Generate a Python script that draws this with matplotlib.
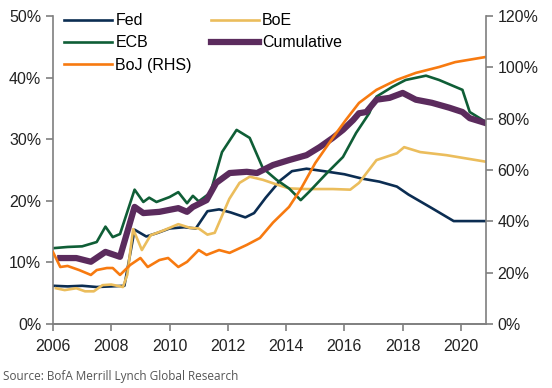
#!/usr/bin/env python3
# -*- coding: utf-8 -*-

"""
	central bank balance sheets chart
"""

import matplotlib
matplotlib.use("Agg")
import matplotlib.pyplot as plt
from matplotlib.ticker import PercentFormatter

plt.rcParams['font.family'] = ['Liberation Sans', 'DejaVu Sans']

# data (% of GDP)
fed_x = [2006.0, 2006.5, 2007.0, 2007.5, 2008.0, 2008.45, 2008.8, 2009.2, 2009.6, 2010.0,
         2010.5, 2010.9, 2011.3, 2011.7, 2012.1, 2012.6, 2012.9, 2013.3, 2013.8, 2014.2,
         2014.7, 2015.3, 2016.0, 2016.6, 2017.2, 2017.8, 2018.2, 2019.0, 2019.75, 2020.85]
fed_y = [6.2, 6.1, 6.2, 6.0, 6.1, 6.2, 15.3, 14.2, 14.8, 15.5,
         15.7, 15.5, 18.3, 18.6, 18.1, 17.3, 18.0, 20.5, 23.3, 24.8,
         25.2, 24.8, 24.3, 23.6, 23.1, 22.3, 21.0, 18.8, 16.7, 16.7]

boe_x = [2006.1, 2006.4, 2006.8, 2007.1, 2007.4, 2007.7, 2008.0, 2008.4, 2008.55, 2008.75,
         2009.05, 2009.35, 2009.8, 2010.3, 2010.7, 2011.0, 2011.3, 2011.55, 2012.05, 2012.4,
         2012.75, 2013.2, 2013.7, 2014.1, 2014.7, 2015.6, 2016.2, 2016.5, 2017.1, 2017.8,
         2018.05, 2018.6, 2019.5, 2020.9]
boe_y = [5.8, 5.5, 5.8, 5.3, 5.3, 6.3, 6.4, 6.0, 8.0, 15.4,
         12.0, 14.4, 15.2, 16.2, 15.6, 15.5, 14.5, 14.8, 20.3, 22.9,
         23.9, 23.4, 22.6, 22.0, 21.9, 21.9, 21.8, 22.9, 26.6, 27.7,
         28.7, 27.9, 27.4, 26.3]

ecb_x = [2006.0, 2006.5, 2007.0, 2007.5, 2007.8, 2008.05, 2008.3, 2008.8, 2009.1, 2009.3,
         2009.55, 2010.0, 2010.3, 2010.6, 2010.8, 2011.0, 2011.4, 2011.8, 2012.3, 2012.75,
         2013.2, 2013.67, 2014.1, 2014.5, 2014.8, 2015.4, 2015.95, 2016.4, 2016.85, 2017.1,
         2017.65, 2018.1, 2018.8, 2019.25, 2020.05, 2020.3, 2020.85]
ecb_y = [12.3, 12.5, 12.6, 13.3, 15.8, 14.1, 14.6, 21.8, 19.8, 20.5,
         19.8, 20.6, 21.4, 19.6, 20.8, 19.9, 21.3, 27.9, 31.5, 30.2,
         25.3, 23.4, 22.0, 20.1, 21.5, 24.5, 27.1, 31.0, 34.2, 36.9,
         38.5, 39.6, 40.3, 39.6, 38.0, 34.4, 32.8]

cum_x = [2006.25, 2006.8, 2007.3, 2007.8, 2008.3, 2008.8, 2009.1, 2009.65, 2010.3, 2010.6,
         2010.8, 2011.27, 2011.6, 2012.06, 2012.65, 2013.0, 2013.55, 2014.1, 2014.7, 2015.15,
         2015.6, 2015.95, 2016.3, 2016.5, 2016.75, 2017.1, 2017.55, 2018.0, 2018.45, 2019.0,
         2019.6, 2020.05, 2020.3, 2020.85]
cum_y = [10.7, 10.7, 10.1, 11.7, 10.9, 19.0, 18.0, 18.2, 18.8, 18.2,
         19.0, 20.1, 22.9, 24.5, 24.7, 24.5, 25.8, 26.6, 27.4, 28.7,
         30.2, 31.5, 33.1, 34.2, 34.4, 36.4, 36.7, 37.5, 36.4, 35.9,
         35.1, 34.4, 33.4, 32.6]

boj_x = [2006.0, 2006.25, 2006.5, 2006.9, 2007.3, 2007.5, 2007.85, 2008.05, 2008.3, 2008.65,
         2009.0, 2009.25, 2009.65, 2009.95, 2010.3, 2010.6, 2011.0, 2011.27, 2011.7, 2012.06,
         2012.65, 2013.1, 2013.55, 2014.1, 2014.5, 2015.0, 2015.6, 2016.05, 2016.5, 2017.1,
         2017.8, 2018.45, 2019.25, 2019.8, 2020.85]
boj_y = [28.0, 22.2, 22.6, 21.0, 19.1, 21.0, 21.8, 21.8, 19.1, 23.0,
         25.7, 22.2, 24.9, 25.7, 22.2, 24.2, 28.8, 26.9, 28.8, 27.7,
         30.8, 33.5, 39.5, 45.6, 52.5, 62.7, 72.5, 79.5, 86.1, 91.2,
         95.1, 97.8, 100.1, 102.0, 104.0]

years = list(range(2006, 2021, 2))

fig = plt.figure(figsize=(5.52, 3.88), dpi=100)
ax = fig.add_axes([0.096, 0.165, 0.784, 0.794])
ax2 = ax.twinx()

l_fed, = ax.plot(fed_x, fed_y, color='#0b2d52', lw=1.9, label='Fed')
l_boe, = ax.plot(boe_x, boe_y, color='#ebbd5c', lw=1.9, label='BoE')
l_ecb, = ax.plot(ecb_x, ecb_y, color='#0f5e36', lw=1.9, label='ECB')
l_boj, = ax2.plot(boj_x, boj_y, color='#f77a10', lw=1.9, label='BoJ (RHS)')
l_cum, = ax.plot(cum_x, cum_y, color='#5b2b5d', lw=4.5, label='Cumulative')

ax.set_xlim(2006, 2020.85)
ax.set_ylim(0, 50)
ax2.set_ylim(0, 120)
ax.set_xticks(years)
ax.set_yticks(range(0, 51, 10))
ax2.set_yticks(range(0, 121, 20))
ax.yaxis.set_major_formatter(PercentFormatter(decimals=0))
ax2.yaxis.set_major_formatter(PercentFormatter(decimals=0))

for a in (ax, ax2):
	a.spines['top'].set_visible(False)
	for s in ('left', 'right', 'bottom'):
		a.spines[s].set_color('#7f7f7f')
		a.spines[s].set_linewidth(1.2)
	a.tick_params(axis='both', colors='#7f7f7f', labelcolor='#222222', labelsize=11.5,
	              length=5, width=1.2)
ax2.spines['left'].set_visible(False)
ax.spines['right'].set_visible(False)
ax.tick_params(axis='x', pad=6)

ax.legend(handles=[l_fed, l_ecb, l_boj, l_boe, l_cum], ncol=2, frameon=False,
          loc='upper left', bbox_to_anchor=(0.0, 1.045), fontsize=11.5,
          handlelength=3.0, handletextpad=0.2, labelspacing=0.45, columnspacing=1.2,
          borderaxespad=0.3)

fig.text(0.006, 0.02, 'Source: BofA Merrill Lynch Global Research', fontsize=8.5,
         color='#555555', family=['Open Sans', 'DejaVu Sans'])

plt.savefig('out.png', dpi=100)
